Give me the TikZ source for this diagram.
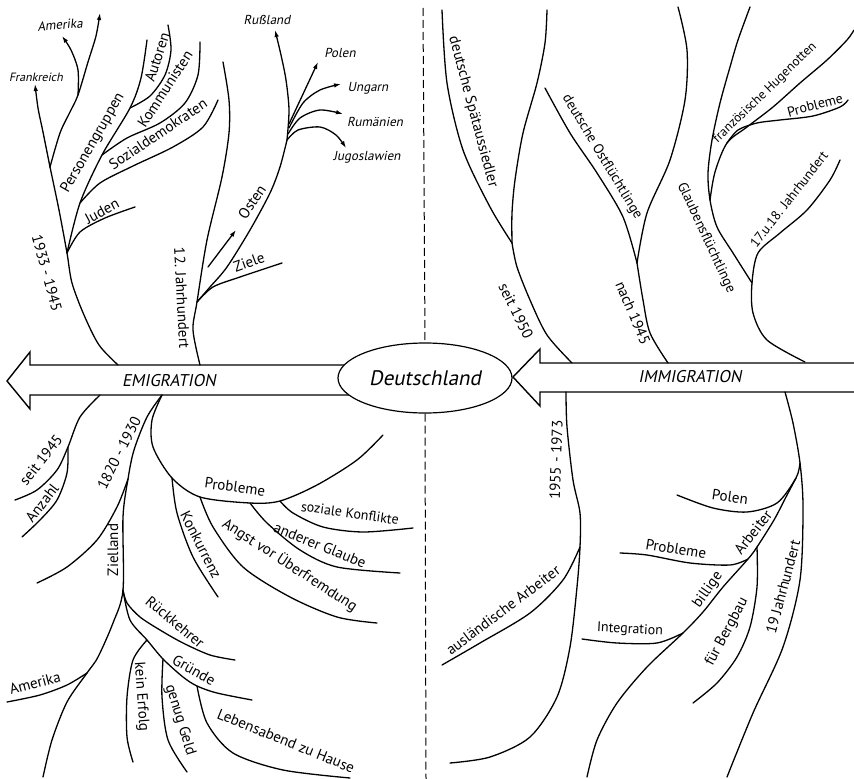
\documentclass[tikz,border=0pt]{standalone}
\usepackage{fontspec}
\setmainfont{PT Sans}
\newfontfamily\slantfont{PT Sans}[FakeSlant=0.2]
\usetikzlibrary{arrows.meta,shapes.geometric}

\tikzset{
  branch/.style={line width=1.3pt, line cap=round},
  tip/.style={branch, -{Latex[length=7pt,width=4.5pt]}},
  band/.style={line width=1.4pt, line join=miter},
  tag/.style={inner sep=0pt, font=\fontsize{15}{15}\selectfont},
  smalltag/.style={inner sep=0pt, font=\fontsize{13}{13}\selectfont\slantfont},
}

\begin{document}
\begin{tikzpicture}[x=1pt,y=1pt]
\useasboundingbox (0,0) rectangle (854,-779);

% the two arrows and the centre
\draw[band] (360,-365) -- (30,-365) -- (30,-352) -- (7,-381) -- (30,-409) -- (30,-395) -- (360,-395);
\draw[band] (854,-363) -- (540,-363) -- (540,-349) -- (513,-377) -- (540,-406) -- (540,-392) -- (854,-392);
\node[draw, ellipse, fill=white, line width=1.2pt, minimum width=174pt, minimum height=70pt,
  font=\fontsize{21}{21}\selectfont\slantfont] (de) at (425,-378) {Deutschland};
\node[inner sep=0pt, font=\fontsize{17}{17}\selectfont\slantfont] (emi) at (169,-381) {EMIGRATION};
\node[inner sep=0pt, font=\fontsize{17}{17}\selectfont\slantfont] (imm) at (690,-377) {IMMIGRATION};
\draw[line width=1pt, dash pattern=on 8pt off 4pt] (423,-8) -- (de.north);
\draw[line width=1pt, dash pattern=on 8pt off 4pt] (de.south) -- (426,-779);

% 1933 - 1945
\coordinate (a0) at (118,-365);
\coordinate (a1) at (67,-253);
\coordinate (a2) at (50,-167);
\coordinate (a3) at (78,-95);
\coordinate (p1) at (80,-203);
\coordinate (p2) at (102,-155);
\coordinate (p3) at (130,-108);
\draw[branch] plot[smooth] coordinates {(a0) (99,-345) (84,-315) (72,-283) (a1) (59,-210) (a2)};
\draw[tip] plot[smooth] coordinates {(a2) (43,-132) (38,-108) (35,-84)};
\draw[tip] plot[smooth] coordinates {(a2) (60,-133) (70,-112) (a3) (88,-62) (96,-36) (100,-13)};
\draw[tip] plot[smooth] coordinates {(a3) (78,-70) (71,-50) (62,-36)};
\draw[branch] plot[smooth] coordinates {(a1) (80,-232) (105,-218) (135,-207)};
\draw[branch] plot[smooth] coordinates {(a1) (p1) (p2) (p3) (141,-78) (147,-40)};
\draw[branch] plot[smooth] coordinates {(p1) (100,-183) (133,-166) (173,-147) (203,-127) (218,-100)};
\draw[branch] plot[smooth] coordinates {(p2) (127,-138) (160,-123) (185,-103) (198,-75) (200,-42)};
\draw[branch] plot[smooth] coordinates {(p3) (150,-96) (165,-75) (171,-50) (168,-25)};
\node[smalltag, font=\fontsize{12}{12}\selectfont\slantfont] (fr) at (36,-77) {Frankreich};
\node[smalltag, rotate=5] (am1) at (60,-25) {Amerika};
\node[tag, rotate=60] (pg) at (93,-143) {Personengruppen};
\node[tag, rotate=72] (au) at (157,-57) {Autoren};
\node[tag, rotate=57] (ko) at (165,-89) {Kommunisten};
\node[tag, rotate=34] (sd) at (158,-134) {Sozialdemokraten};
\node[tag, rotate=28] (ju) at (102,-211) {Juden};
\node[tag, rotate=-75] (y33) at (47,-273) {1933 - 1945};

% 12. Jahrhundert
\coordinate (b0) at (200,-365);
\coordinate (b1) at (197,-302);
\coordinate (b2) at (287,-140);
\draw[branch] plot[smooth] coordinates {(b0) (193,-330) (b1) (207,-240) (222,-177) (229,-133) (229,-100) (223,-62)};
\draw[branch] plot[smooth] coordinates {(b1) (213,-287) (240,-277) (282,-263)};
\draw[branch] plot[smooth] coordinates {(b1) (210,-287) (227,-267) (250,-230) (270,-193) (280,-167) (b2)};
\draw[tip] plot[smooth] coordinates {(b2) (289,-110) (286,-80) (281,-55) (275,-30)};
\draw[tip] (289,-124) -- (318,-62);
\draw[tip] plot[smooth] coordinates {(289,-128) (303,-103) (320,-90) (341,-84)};
\draw[tip] plot[smooth] coordinates {(288,-134) (300,-118) (320,-110) (343,-114)};
\draw[tip] plot[smooth] coordinates {(b2) (298,-130) (320,-127) (336,-135) (346,-148)};
\draw[tip] (208,-267) -- (236,-230);
\node[tag, rotate=-87] (y12) at (182,-298) {12. Jahrhundert};
\node[tag, rotate=20] (zi) at (249,-262) {Ziele};
\node[tag, rotate=56] (os) at (252,-202) {Osten};
\node[smalltag] (ru) at (267,-20) {Rußland};
\node[smalltag] (po1) at (340,-53) {Polen};
\node[smalltag] (un) at (368,-88) {Ungarn};
\node[smalltag] (rm) at (375,-122) {Rumänien};
\node[smalltag] (jg) at (367,-157) {Jugoslawien};

% seit 1950 / nach 1945
\coordinate (s0) at (572,-363);
\coordinate (s1) at (512,-243);
\draw[branch] plot[smooth] coordinates {(s0) (547,-335) (530,-300) (517,-267) (s1)};
\draw[branch] plot[smooth] coordinates {(s1) (512,-213) (515,-180) (523,-133) (537,-83) (545,-43) (547,-10)};
\draw[branch] plot[smooth] coordinates {(s1) (490,-207) (463,-150) (447,-83) (442,-10)};
\coordinate (n0) at (668,-363);
\coordinate (n1) at (637,-263);
\draw[branch] plot[smooth] coordinates {(n0) (650,-333) (643,-300) (n1)};
\draw[branch] plot[smooth] coordinates {(n1) (623,-217) (597,-173) (570,-133) (545,-88)};
\draw[branch] plot[smooth] coordinates {(n1) (647,-213) (670,-160) (685,-100) (687,-50) (678,-7)};
\node[tag, rotate=-75] (sp) at (473,-112) {deutsche Spätaussiedler};
\node[tag, rotate=-64] (y50) at (516,-311) {seit 1950};
\node[tag, font=\fontsize{14}{14}\selectfont, rotate=-59] (of) at (602,-157) {deutsche Ostflüchtlinge};
\node[tag, rotate=-67] (y45) at (633,-313) {nach 1945};

% Glaubensfluechtlinge
\coordinate (g0) at (805,-362);
\coordinate (g1) at (752,-283);
\coordinate (g2) at (710,-200);
\coordinate (g3) at (727,-143);
\draw[branch] plot[smooth] coordinates {(g0) (767,-340) (753,-313) (g1) (758,-253) (780,-233) (807,-210) (830,-180) (840,-160)};
\draw[branch] plot[smooth] coordinates {(g1) (733,-253) (717,-227) (g2) (708,-173) (712,-140) (720,-103) (730,-67) (738,-40) (750,-7)};
\draw[branch] plot[smooth] coordinates {(g2) (715,-172) (g3) (747,-127) (773,-107) (800,-83) (827,-60) (847,-40) (854,-30)};
\draw[branch] plot[smooth] coordinates {(g3) (738,-130) (757,-123) (780,-120) (813,-116) (840,-107) (848,-100)};
\node[tag, font=\fontsize{14}{14}\selectfont, rotate=-65] (gf) at (706,-238) {Glaubensflüchtlinge};
\node[tag, font=\fontsize{13}{13}\selectfont, rotate=44] (hu) at (765,-93) {französische Hugenotten};
\node[tag, font=\fontsize{14}{14}\selectfont, rotate=15] (pr1) at (815,-105) {Probleme};
\node[tag, font=\fontsize{13.5}{13.5}\selectfont, rotate=52] (y17) at (789,-199) {17.u.18. Jahrhundert};

% seit 1945 / 1820 - 1930
\coordinate (c0) at (100,-395);
\coordinate (c1) at (68,-447);
\draw[branch] plot[smooth] coordinates {(c0) (80,-417) (c1) (57,-470) (37,-490) (15,-500)};
\draw[branch] plot[smooth] coordinates {(c1) (67,-473) (57,-500) (40,-520) (22,-537)};
\coordinate (d0) at (162,-395);
\coordinate (d1) at (128,-479);
\coordinate (d2) at (123,-590);
\coordinate (d3) at (87,-673);
\coordinate (d4) at (147,-640);
\coordinate (d5) at (163,-659);
\coordinate (d6) at (197,-686);
\draw[branch] plot[smooth] coordinates {(d0) (147,-417) (134,-450) (d1) (123,-517) (d2) (113,-623) (98,-657) (d3) (67,-702) (52,-740) (43,-777)};
\draw[branch] plot[smooth] coordinates {(d1) (117,-507) (97,-540) (67,-567) (37,-583)};
\draw[branch] plot[smooth] coordinates {(d3) (67,-685) (40,-695) (7,-702)};
\draw[branch] plot[smooth] coordinates {(d2) (127,-603) (140,-617) (160,-630) (183,-643) (210,-655) (235,-660)};
\draw[branch] plot[smooth] coordinates {(d2) (130,-620) (d4) (d5) (183,-677) (d6) (217,-693) (252,-700)};
\draw[branch] plot[smooth] coordinates {(d4) (133,-660) (127,-697) (127,-737) (133,-762)};
\draw[branch] plot[smooth] coordinates {(d5) (162,-697) (168,-740) (187,-772)};
\draw[branch] plot[smooth] coordinates {(d6) (207,-723) (233,-753) (283,-770) (350,-778)};
\node[tag, rotate=52] (y45b) at (41,-460) {seit 1945};
\node[tag, rotate=52] (an) at (42,-503) {Anzahl};
\node[tag, rotate=63] (y18) at (119,-453) {1820 - 1930};
\node[tag, rotate=90] (zl) at (113,-550) {Zielland};
\node[tag, rotate=15] (am2) at (35,-683) {Amerika};
\node[tag, rotate=-40] (rk) at (175,-622) {Rückkehrer};
\node[tag, rotate=-29] (gr) at (194,-670) {Gründe};
\node[tag, rotate=-86] (ke) at (141,-697) {kein Erfolg};
\node[tag, rotate=-73] (gg) at (180,-720) {genug Geld};
\node[tag, rotate=-22] (lb) at (286,-741) {Lebensabend zu Hause};

% Probleme (Emigration)
\coordinate (k0) at (172,-478);
\coordinate (k1) at (200,-497);
\coordinate (k2) at (250,-503);
\coordinate (k3) at (280,-501);
\draw[branch] plot[smooth] coordinates {(d0) (152,-420) (153,-447) (k0) (k1) (k2) (k3) (317,-485) (357,-460) (383,-435)};
\draw[branch] plot[smooth] coordinates {(k0) (177,-513) (193,-557) (218,-597)};
\draw[branch] plot[smooth] coordinates {(k1) (213,-527) (243,-567) (290,-597) (337,-617) (377,-623)};
\draw[branch] plot[smooth] coordinates {(k2) (267,-523) (300,-550) (337,-567) (400,-573)};
\draw[branch] plot[smooth] coordinates {(k3) (293,-513) (323,-527) (363,-532) (413,-528)};
\node[tag, rotate=-8] (pr2) at (235,-487) {Probleme};
\node[tag, rotate=-63] (kk) at (201,-545) {Konkurrenz};
\node[tag, rotate=-33] (ag) at (290,-565) {Angst vor Überfremdung};
\node[tag, rotate=-22] (ag2) at (320,-545) {anderer Glaube};
\node[tag, font=\fontsize{14}{14}\selectfont, rotate=-8] (sk) at (350,-513) {soziale Konflikte};

% 1955 - 1973 / 19 Jahrhundert
\coordinate (e0) at (566,-392);
\coordinate (e1) at (580,-547);
\draw[branch] plot[smooth] coordinates {(e0) (567,-427) (573,-480) (580,-513) (e1) (577,-587) (570,-647) (557,-697) (530,-737) (490,-757) (450,-763)};
\draw[branch] plot[smooth] coordinates {(e1) (563,-580) (530,-613) (480,-643) (442,-665)};
\coordinate (f0) at (785,-392);
\coordinate (f1) at (800,-463);
\coordinate (f5) at (796,-478);
\coordinate (f2) at (757,-547);
\coordinate (f3) at (748,-559);
\coordinate (f4) at (683,-633);
\draw[branch] plot[smooth] coordinates {(f0) (793,-423) (f1) (803,-507) (800,-580) (783,-647) (753,-713) (727,-777)};
\draw[branch] plot[smooth] coordinates {(f1) (f5) (777,-503) (747,-512) (713,-508) (677,-495)};
\draw[branch] plot[smooth] coordinates {(f5) (786,-497) (774,-520) (f2) (f3) (723,-587) (703,-612) (f4) (647,-667) (617,-703) (597,-740) (587,-777)};
\draw[branch] plot[smooth] coordinates {(f3) (730,-565) (690,-563) (647,-555) (620,-553)};
\draw[branch] plot[smooth] coordinates {(f4) (657,-643) (617,-643) (582,-639)};
\draw[branch] plot[smooth] coordinates {(f2) (757,-587) (750,-627) (737,-657) (717,-683) (693,-703)};
\node[tag, rotate=88] (y55) at (556,-460) {1955 - 1973};
\node[tag, rotate=37] (aa) at (503,-610) {ausländische Arbeiter};
\node[tag, rotate=-8] (po2) at (730,-497) {Polen};
\node[tag, rotate=52] (ar) at (753,-532) {Arbeiter};
\node[tag, rotate=-9] (pr3) at (676,-549) {Probleme};
\node[tag, rotate=55] (bi) at (708,-590) {billige};
\node[tag, font=\fontsize{14}{14}\selectfont, rotate=-3] (in) at (630,-630) {Integration};
\node[tag, rotate=62] (fb) at (727,-632) {für Bergbau};
\node[tag, rotate=75] (y19) at (783,-587) {19 Jahrhundert};
\end{tikzpicture}
\end{document}
